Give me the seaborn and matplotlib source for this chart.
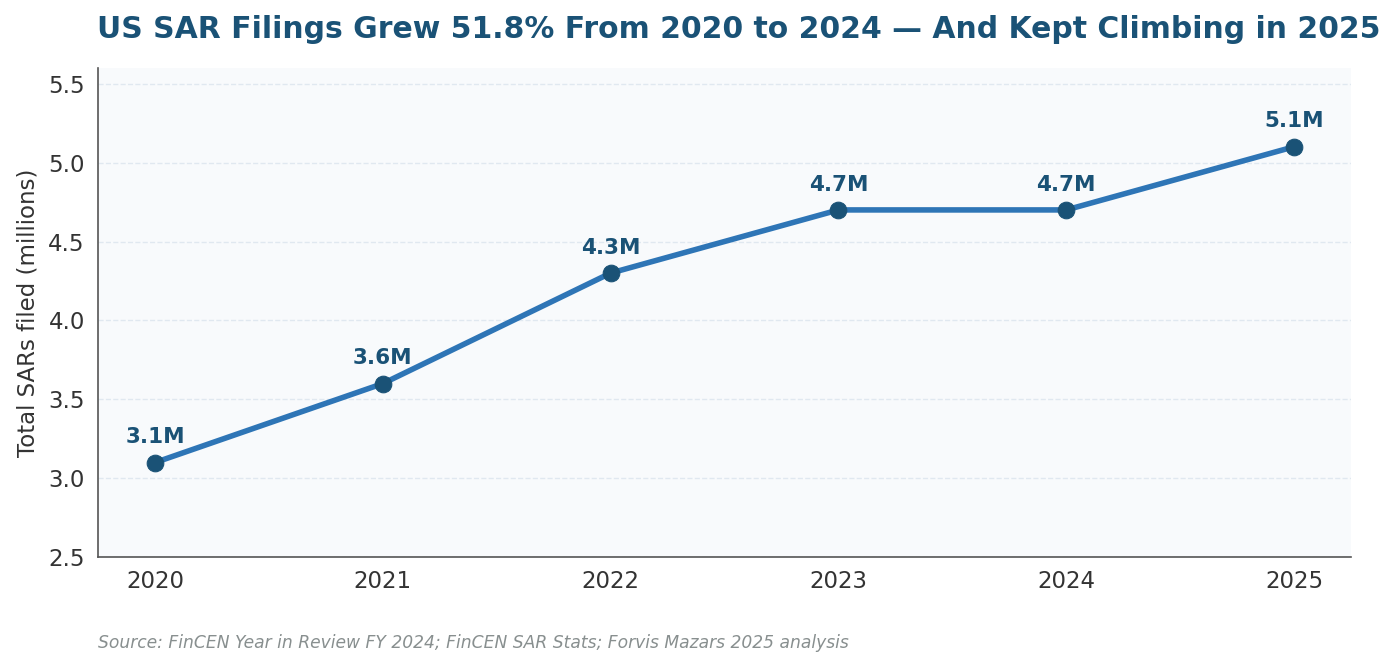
import matplotlib
matplotlib.use("Agg")
import matplotlib.pyplot as plt
import seaborn as sns
import pandas as pd

# dados
anos = [2020, 2021, 2022, 2023, 2024, 2025]
sars_milhoes = [3.1, 3.6, 4.3, 4.7, 4.7, 5.1]
rotulos = ["3.1M", "3.6M", "4.3M", "4.7M", "4.7M", "5.1M"]

df = pd.DataFrame({"ano": anos, "sars": sars_milhoes})

sns.set_style("white")
plt.rcParams['font.family'] = ['DejaVu Sans']

fig, ax = plt.subplots(figsize=(14, 6.65), dpi=100)
fig.subplots_adjust(left=0.07, right=0.965, top=0.898, bottom=0.162)

ax.set_facecolor("#f8fafc")
sns.lineplot(data=df, x="ano", y="sars", ax=ax, color="#2e75b6", linewidth=4,
             marker="o", markersize=12, markerfacecolor="#1a5276",
             markeredgecolor="#1a5276")

# rotulos em cima dos pontos
for x, y, r in zip(anos, sars_milhoes, rotulos):
    ax.annotate(r, (x, y), xytext=(0, 11), textcoords="offset points",
                ha="center", va="bottom", fontsize=15.5, fontweight="bold",
                color="#1a5276")

ax.set_ylim(2.5, 5.6)
ax.set_xlim(2019.75, 2025.25)
ax.set_xticks(anos)
ax.set_yticks([2.5, 3.0, 3.5, 4.0, 4.5, 5.0, 5.5])
ax.tick_params(axis="both", labelsize=16.5, length=6, width=1.2,
               colors="#555555", labelcolor="#333333")
ax.yaxis.grid(True, linestyle="--", color="#dbe4ee", linewidth=1, alpha=0.8)
ax.set_axisbelow(True)

ax.set_xlabel("")
ax.set_ylabel("Total SARs filed (millions)", fontsize=16.5, color="#333333", labelpad=6)

sns.despine(ax=ax)
for s in ["left", "bottom"]:
    ax.spines[s].set_color("#555555")
    ax.spines[s].set_linewidth(1.2)

fig.suptitle("US SAR Filings Grew 51.8% From 2020 to 2024 \u2014 And Kept Climbing in 2025",
             fontsize=21.5, fontweight="bold", color="#1a5276", x=0.528, y=0.978)
fig.text(0.07, 0.025, "Source: FinCEN Year in Review FY 2024; FinCEN SAR Stats; Forvis Mazars 2025 analysis",
         fontsize=12.3, style="italic", color="#888f8f")

fig.savefig("out.png", dpi=100)
